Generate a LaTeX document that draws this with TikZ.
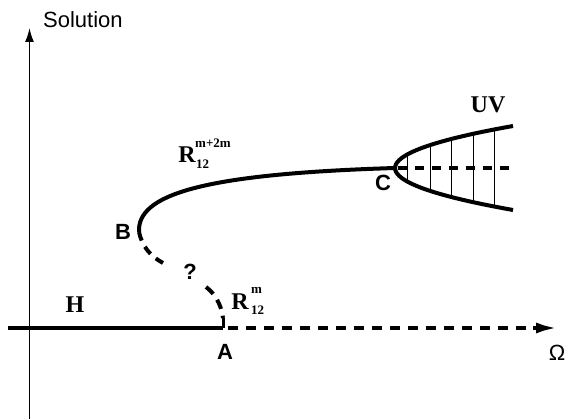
\documentclass[tikz,border=0pt]{standalone}
\usepackage{fontspec}
\setmainfont{Liberation Sans}
\newfontfamily\serifb{Liberation Serif}
\usetikzlibrary{arrows.meta}
\tikzset{
  thickline/.style={line width=4pt},
  dashline/.style={line width=4pt, dash pattern=on 9pt off 8pt},
  sanslab/.style={font=\fontsize{22}{22}\selectfont, inner sep=0pt},
  boldlab/.style={font=\bfseries\fontsize{22}{22}\selectfont, inner sep=0pt},
  seriflab/.style={font=\serifb\bfseries\fontsize{24}{24}\selectfont, inner sep=0pt},
  supsub/.style={font=\serifb\bfseries\fontsize{13}{13}\selectfont, inner sep=0pt, anchor=west},
}
\begin{document}
\begin{tikzpicture}[x=1pt,y=-1pt]
\useasboundingbox (0,0) rectangle (570,419);
% coordinates
\coordinate (vbot) at (29.5,419);
\coordinate (vtop) at (29.5,28);
\coordinate (hleft) at (8,328);
\coordinate (A) at (223,328);
\coordinate (Atop) at (223,318);
\coordinate (Ad) at (228,328);
\coordinate (harr) at (533,328);
\coordinate (hright) at (558,328);
\coordinate (B) at (139,232);
\coordinate (C) at (395,168);
\coordinate (UVt) at (513,126);
\coordinate (UVb) at (513,210);
\coordinate (UVm) at (510,168);
\coordinate (q1) at (163,263);
\coordinate (q2) at (206,287);
% axes
\draw[line width=1.6pt, -{Latex[length=14pt,width=9pt]}] (vbot) -- (vtop);
\draw[thickline] (hleft) -- (A);
\draw[line width=3pt] (A) -- (Atop);
\draw[dashline, dash pattern=on 10pt off 8pt] (Ad) -- (harr);
\draw[line width=4pt, -{Latex[length=22pt,width=11pt]}] (harr) -- (hright);
% upper branch
\draw[thickline] (B) .. controls (137,195) and (200,174) .. (C);
% dashed branch B -> A (gap at the question mark)
\draw[dashline, dash pattern=on 9pt off 7pt] (B) .. controls (142,246) and (150,256) .. (q1);
\draw[dashline, dash pattern=on 10pt off 7pt] (q2) .. controls (214,293) and (221,303) .. (Atop);
% UV region
\begin{scope}
\clip (C) .. controls (395,154) and (434.3,140) .. (UVt) -- (UVb) .. controls (434.3,196) and (395,182) .. (C) -- cycle;
\foreach \xx in {407,430,451,473,494} \draw[line width=1pt] (\xx,100) -- (\xx,240);
\end{scope}
\draw[thickline] (C) .. controls (395,154) and (434.3,140) .. (UVt);
\draw[thickline] (C) .. controls (395,182) and (434.3,196) .. (UVb);
\draw[dashline, dash pattern=on 9pt off 8pt, dash phase=-3pt] (C) -- (UVm);
% labels
\node[sanslab, anchor=west] (sol) at (43,20) {Solution};
\node[boldlab] (labA) at (225,352) {A};
\node[boldlab] (labB) at (123,232) {B};
\node[boldlab] (labC) at (383,183) {C};
\node[boldlab] (q) at (190,272) {?};
\node[sanslab] (om) at (557,353) {Ω};
\node[seriflab] (H) at (75,305) {H};
\node[seriflab] (UV) at (488,105) {UV};
\node[seriflab] (R1) at (187,155) {R};
\node[supsub] (R1sup) at (195,143) {m+2m};
\node[supsub] (R1sub) at (196,164) {12};
\node[seriflab] (R2) at (240,302) {R};
\node[supsub] (R2sup) at (251,290) {m};
\node[supsub] (R2sub) at (251,310) {12};
\end{tikzpicture}
\end{document}
